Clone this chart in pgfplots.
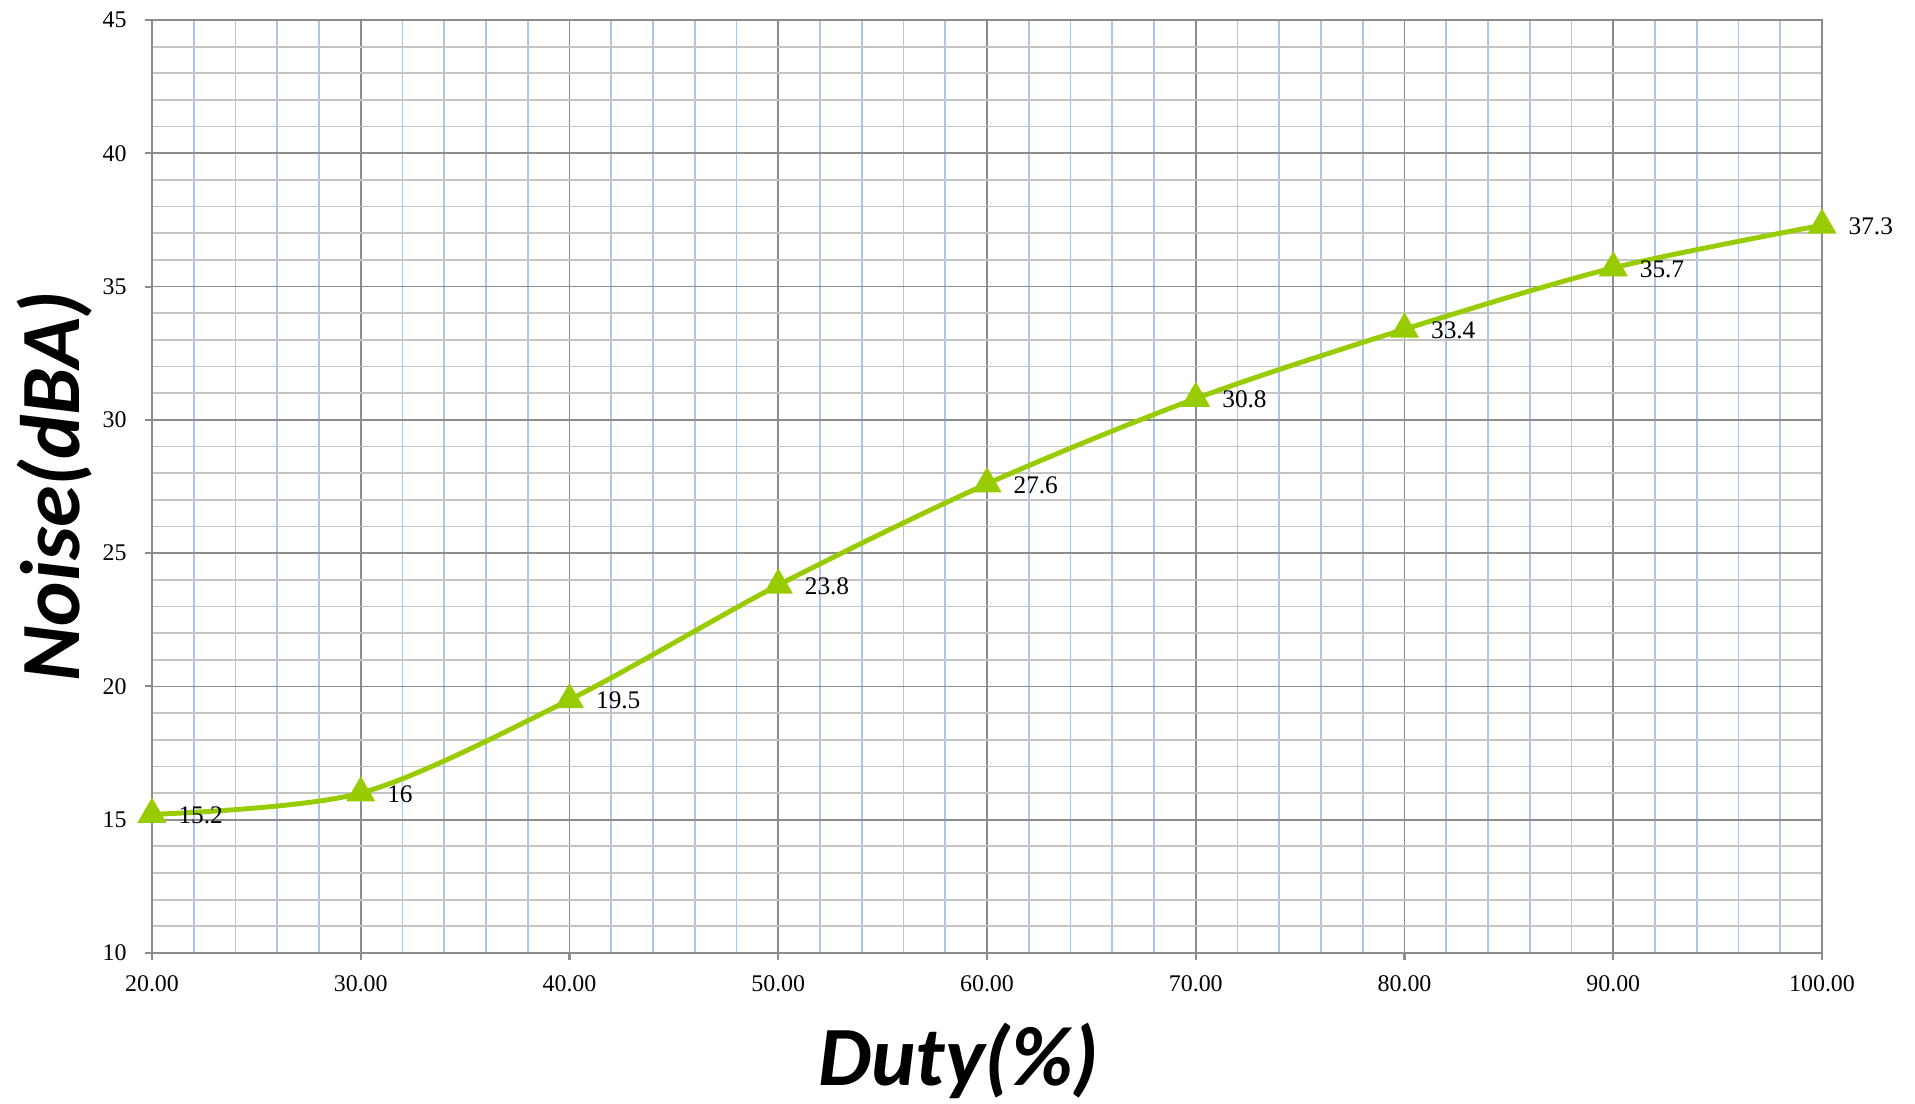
\documentclass[border=0pt]{standalone}
\usepackage{fontspec}
\setmainfont{Liberation Serif}
\newfontfamily\calib{Carlito}
\usepackage{pgfplots}
\pgfplotsset{compat=1.18}
\definecolor{lime}{HTML}{99CC00}
\definecolor{majgrid}{HTML}{8C8C8C}
\definecolor{mingridy}{HTML}{C4C4C4}
\definecolor{mingridx}{HTML}{AEC4EA}
\begin{document}
\begin{tikzpicture}
\begin{axis}[
    scale only axis,
    width=16.70cm,
    height=9.33cm,
    at={(0,0)}, anchor=south west,
    xmin=20, xmax=100,
    ymin=10, ymax=45,
    xtick={20,30,...,100},
    ytick={10,15,...,45},
    minor x tick num=4,
    minor y tick num=4,
    grid=both,
    major grid style={majgrid, line width=0.5pt},
    minor x grid style={mingridx, line width=0.5pt},
    minor y grid style={mingridy, line width=0.5pt},
    axis line style={majgrid, line width=0.8pt},
    tick align=outside,
    xtick pos=bottom, ytick pos=left,
    major tick length=0.07cm,
    minor tick length=0pt,
    tick style={majgrid, line width=0.6pt},
    /pgf/number format/assume math mode=true,
    ticklabel style={font=\fontsize{6.8}{7}\selectfont},
    xticklabel={\pgfmathprintnumber[fixed, fixed zerofill, precision=2]{\tick}},
    yticklabel style={xshift=-0.06cm},
    xticklabel style={yshift=-0.03cm},
    xlabel={\calib\bfseries\itshape Duty(\%)},
    ylabel={\calib\bfseries\itshape Noise(dBA)},
    xlabel style={at={(axis description cs:0.483,0)}, anchor=center, inner sep=0pt, yshift=-1.08cm, font=\fontsize{24}{28}\selectfont},
    ylabel style={at={(axis description cs:0,0.5)}, anchor=center, inner sep=0pt, yshift=0.97cm, font=\fontsize{24}{28}\selectfont},
    clip=false,
]
\addplot[
    color=lime,
    line width=1.4pt,
    smooth,
    mark=triangle*,
    mark size=4.3pt,
    mark options={fill=lime, draw=lime, line width=0.5pt},
    nodes near coords,
    point meta=explicit symbolic,
    every node near coord/.append style={anchor=west, xshift=0.14cm, yshift=-0.01cm, text=black, font=\fontsize{7.2}{8}\selectfont},
] table[meta=lab] {
x   y    lab
20  15.2 15.2
30  16.0 16
40  19.5 19.5
50  23.8 23.8
60  27.6 27.6
70  30.8 30.8
80  33.4 33.4
90  35.7 35.7
100 37.3 37.3
};
\end{axis}
\pgfresetboundingbox
\path[use as bounding box] (-1.52cm,-1.50cm) rectangle (17.63cm,9.53cm);
\end{tikzpicture}
\end{document}
